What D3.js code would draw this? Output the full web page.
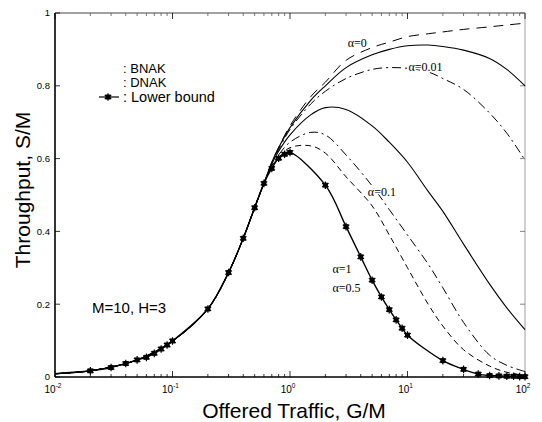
<!DOCTYPE html>
<html>
<head>
<meta charset="utf-8">
<script src="https://cdn.jsdelivr.net/npm/d3@7"></script>
<style>
  html, body { margin: 0; padding: 0; background: #fff; }
  svg { display: block; }
</style>
</head>
<body>
<svg id="chart" width="542" height="422"></svg>
<script>
// Offered traffic G/M sample points shared by the alpha curves
const gridG = [0.01, 0.02, 0.05, 0.1, 0.2, 0.3, 0.4, 0.5, 0.6, 0.7, 0.8, 1, 1.5, 2, 3, 5, 7, 10, 15, 20, 30, 50, 70, 100];

// Common rising part (identical for every scheme up to G/M = 0.6)
const riseS = [0.009, 0.017, 0.047, 0.099, 0.187, 0.287, 0.381, 0.465, 0.532];

// Throughput S/M for G/M = 0.7 … 100 (gridG from index 9 on)
const alpha0Dash      = [0.59, 0.63, 0.69, 0.77, 0.81, 0.87, 0.905, 0.92, 0.935, 0.943, 0.948, 0.955, 0.962, 0.967, 0.972];
const alpha001Solid   = [0.59, 0.63, 0.685, 0.76, 0.80, 0.85, 0.885, 0.90, 0.91, 0.912, 0.908, 0.898, 0.875, 0.845, 0.80];
const alpha001DashDot = [0.588, 0.625, 0.68, 0.75, 0.785, 0.82, 0.845, 0.85, 0.848, 0.838, 0.82, 0.79, 0.725, 0.67, 0.596];
const alpha01Solid    = [0.585, 0.62, 0.665, 0.72, 0.74, 0.735, 0.69, 0.645, 0.59, 0.51, 0.455, 0.365, 0.255, 0.19, 0.13];
const alpha01DashDot  = [0.58, 0.61, 0.645, 0.672, 0.665, 0.61, 0.525, 0.46, 0.39, 0.31, 0.245, 0.15, 0.06, 0.032, 0.015];
const alpha05Dash     = [0.578, 0.603, 0.63, 0.635, 0.615, 0.55, 0.47, 0.39, 0.30, 0.20, 0.14, 0.075, 0.03, 0.013, 0.005];

// Lower bound (marked curve)
const lowerG = [0.02, 0.03, 0.04, 0.05, 0.06, 0.07, 0.08, 0.09, 0.1, 0.2, 0.3, 0.4, 0.5, 0.6, 0.7, 0.8, 0.9, 1,
                2, 3, 4, 5, 6, 7, 8, 9, 10, 20, 30, 40, 50, 60, 70, 80, 90, 100];
const lowerS = [0.017, 0.026, 0.037, 0.047, 0.054, 0.065, 0.077, 0.088, 0.099, 0.187, 0.287, 0.381, 0.465, 0.532, 0.573, 0.601, 0.612, 0.617,
                0.527, 0.413, 0.330, 0.266, 0.220, 0.185, 0.157, 0.134, 0.115, 0.045, 0.021, 0.008, 0.004, 0.003, 0.002, 0.002, 0.001, 0.001];

// Axis ticks
const xTickExp = [-2, -1, 0, 1, 2];
const yTicks = [0, 0.2, 0.4, 0.6, 0.8, 1];
const yTickLabels = ["0", "0.2", "0.4", "0.6", "0.8", "1"];

// Curve annotations (anchored at a G/M, S/M position)
const curveLabels = [
  { text: "\u03b1=0",    g: 3.1,  s: 0.918, halo: false },
  { text: "\u03b1=0.01", g: 10.2, s: 0.852, halo: true },
  { text: "\u03b1=0.1",  g: 4.6,  s: 0.508, halo: true },
  { text: "\u03b1=1",    g: 2.3,  s: 0.298, halo: false },
  { text: "\u03b1=0.5",  g: 2.3,  s: 0.245, halo: false }
];

const svg = d3.select("#chart");
const margin = { left: 55, right: 17, top: 13, bottom: 45 };
const W = 542, H = 422;

const x = d3.scaleLog().domain([0.01, 100]).range([margin.left, W - margin.right]);
const y = d3.scaleLinear().domain([0, 1]).range([H - margin.bottom, margin.top]);

const x0 = x.range()[0], x1 = x.range()[1];
const y0 = y.range()[0], y1 = y.range()[1];

// Frame: bold left/bottom, light top/right
svg.append("line").attr("x1", x0).attr("x2", x0).attr("y1", y0).attr("y2", y1)
  .attr("stroke", "#000").attr("stroke-width", 1.6);
svg.append("line").attr("x1", x0).attr("x2", x1).attr("y1", y0).attr("y2", y0)
  .attr("stroke", "#000").attr("stroke-width", 1.4);
svg.append("line").attr("x1", x0).attr("x2", x1).attr("y1", y1).attr("y2", y1)
  .attr("stroke", "#444").attr("stroke-width", 1);
svg.append("line").attr("x1", x1).attr("x2", x1).attr("y1", y0).attr("y2", y1)
  .attr("stroke", "#888").attr("stroke-width", 0.8);

// Inward ticks on all four sides
const tickG = svg.append("g").attr("stroke", "#000").attr("stroke-width", 0.8);
const minorVals = [];
for (let e = -2; e < 2; e++) for (let m = 2; m <= 9; m++) minorVals.push(m * Math.pow(10, e));
minorVals.forEach(v => {
  tickG.append("line").attr("x1", x(v)).attr("x2", x(v)).attr("y1", y0).attr("y2", y0 - 3);
  tickG.append("line").attr("x1", x(v)).attr("x2", x(v)).attr("y1", y1).attr("y2", y1 + 3).attr("stroke", "#555");
});
xTickExp.forEach(e => {
  const v = Math.pow(10, e);
  tickG.append("line").attr("x1", x(v)).attr("x2", x(v)).attr("y1", y0).attr("y2", y0 - 6);
  tickG.append("line").attr("x1", x(v)).attr("x2", x(v)).attr("y1", y1).attr("y2", y1 + 6);
});
yTicks.forEach(v => {
  tickG.append("line").attr("x1", x0).attr("x2", x0 + 5).attr("y1", y(v)).attr("y2", y(v));
  tickG.append("line").attr("x1", x1).attr("x2", x1 - 5).attr("y1", y(v)).attr("y2", y(v)).attr("stroke", "#666");
});

// Tick labels
const sans = "Liberation Sans, Arial, Helvetica, sans-serif";
yTicks.forEach((v, i) => {
  svg.append("text").attr("x", x0 - 5).attr("y", y(v)).attr("dy", "0.35em")
    .attr("text-anchor", "end").attr("font-family", sans).attr("font-size", 9.5)
    .text(yTickLabels[i]);
});
xTickExp.forEach(e => {
  const t = svg.append("text").attr("x", x(Math.pow(10, e)) - 2).attr("y", y0 + 16)
    .attr("text-anchor", "middle").attr("font-family", sans).attr("font-size", 10);
  t.append("tspan").text("10");
  t.append("tspan").attr("dy", -5).attr("font-size", 6.5).text(String(e));
});

// Axis titles
svg.append("text").attr("x", 294).attr("y", 418).attr("text-anchor", "middle")
  .attr("font-family", sans).attr("font-size", 21).text("Offered Traffic, G/M");
svg.append("text").attr("transform", "translate(30,190) rotate(-90)").attr("text-anchor", "middle")
  .attr("font-family", sans).attr("font-size", 21).text("Throughput, S/M");

// Curves
const line = d3.line().x(d => x(d[0])).y(d => y(d[1])).curve(d3.curveCatmullRom.alpha(0.5));
const buildCurve = tail => gridG.map((g, i) => [g, i < riseS.length ? riseS[i] : tail[i - riseS.length]]);

const curves = [
  { data: alpha0Dash,      dash: "10,7",      width: 1.0 },
  { data: alpha001Solid,   dash: null,        width: 1.1 },
  { data: alpha001DashDot, dash: "9,4,2,4",   width: 1.0 },
  { data: alpha01Solid,    dash: null,        width: 1.1 },
  { data: alpha01DashDot,  dash: "9,4,2,4",   width: 1.0 },
  { data: alpha05Dash,     dash: "6,4",       width: 1.0 }
];
const plot = svg.append("g");
curves.forEach(c => {
  plot.append("path").datum(buildCurve(c.data))
    .attr("fill", "none").attr("stroke", "#000").attr("stroke-width", c.width)
    .attr("stroke-dasharray", c.dash).attr("d", line);
});

const lowerData = lowerG.map((g, i) => [g, lowerS[i]]);
plot.append("path").datum([[0.01, 0.009]].concat(lowerData))
  .attr("fill", "none").attr("stroke", "#000").attr("stroke-width", 1.4).attr("d", line);

// Star-like markers
function marker(sel, cx, cy) {
  const g = sel.append("g").attr("transform", `translate(${cx},${cy})`);
  g.append("rect").attr("x", -2.5).attr("y", -2.5).attr("width", 5).attr("height", 5).attr("fill", "#000");
  g.append("path").attr("d", d3.symbol(d3.symbolAsterisk, 40)()).attr("stroke", "#000").attr("stroke-width", 1.2).attr("fill", "none");
}
lowerData.forEach(d => marker(plot, x(d[0]), y(d[1])));

// Curve labels (some sit on their own curve, cutting a gap in it)
const serif = "Liberation Serif, Times New Roman, serif";
curveLabels.forEach(l => {
  const t = svg.append("text").attr("x", x(l.g)).attr("y", y(l.s)).attr("dy", "0.35em")
    .attr("font-family", serif).attr("font-size", 12).text(l.text);
  if (l.halo) t.attr("stroke", "#fff").attr("stroke-width", 3).attr("paint-order", "stroke");
});

// Legend
const legX = 123;
const legend = svg.append("g").attr("font-family", sans).attr("font-size", 13);
legend.append("text").attr("x", legX).attr("y", 73).text(": BNAK");
legend.append("text").attr("x", legX).attr("y", 87).text(": DNAK");
legend.append("text").attr("x", legX).attr("y", 102).attr("font-size", 14.5).text(": Lower bound");
legend.append("line").attr("x1", 99).attr("x2", 119).attr("y1", 97).attr("y2", 97)
  .attr("stroke", "#000").attr("stroke-width", 1.2);
marker(legend, 108, 97);

// Parameter note
svg.append("text").attr("x", 92).attr("y", 308).attr("dy", "0.35em")
  .attr("font-family", sans).attr("font-size", 15).text("M=10, H=3");
</script>
</body>
</html>
